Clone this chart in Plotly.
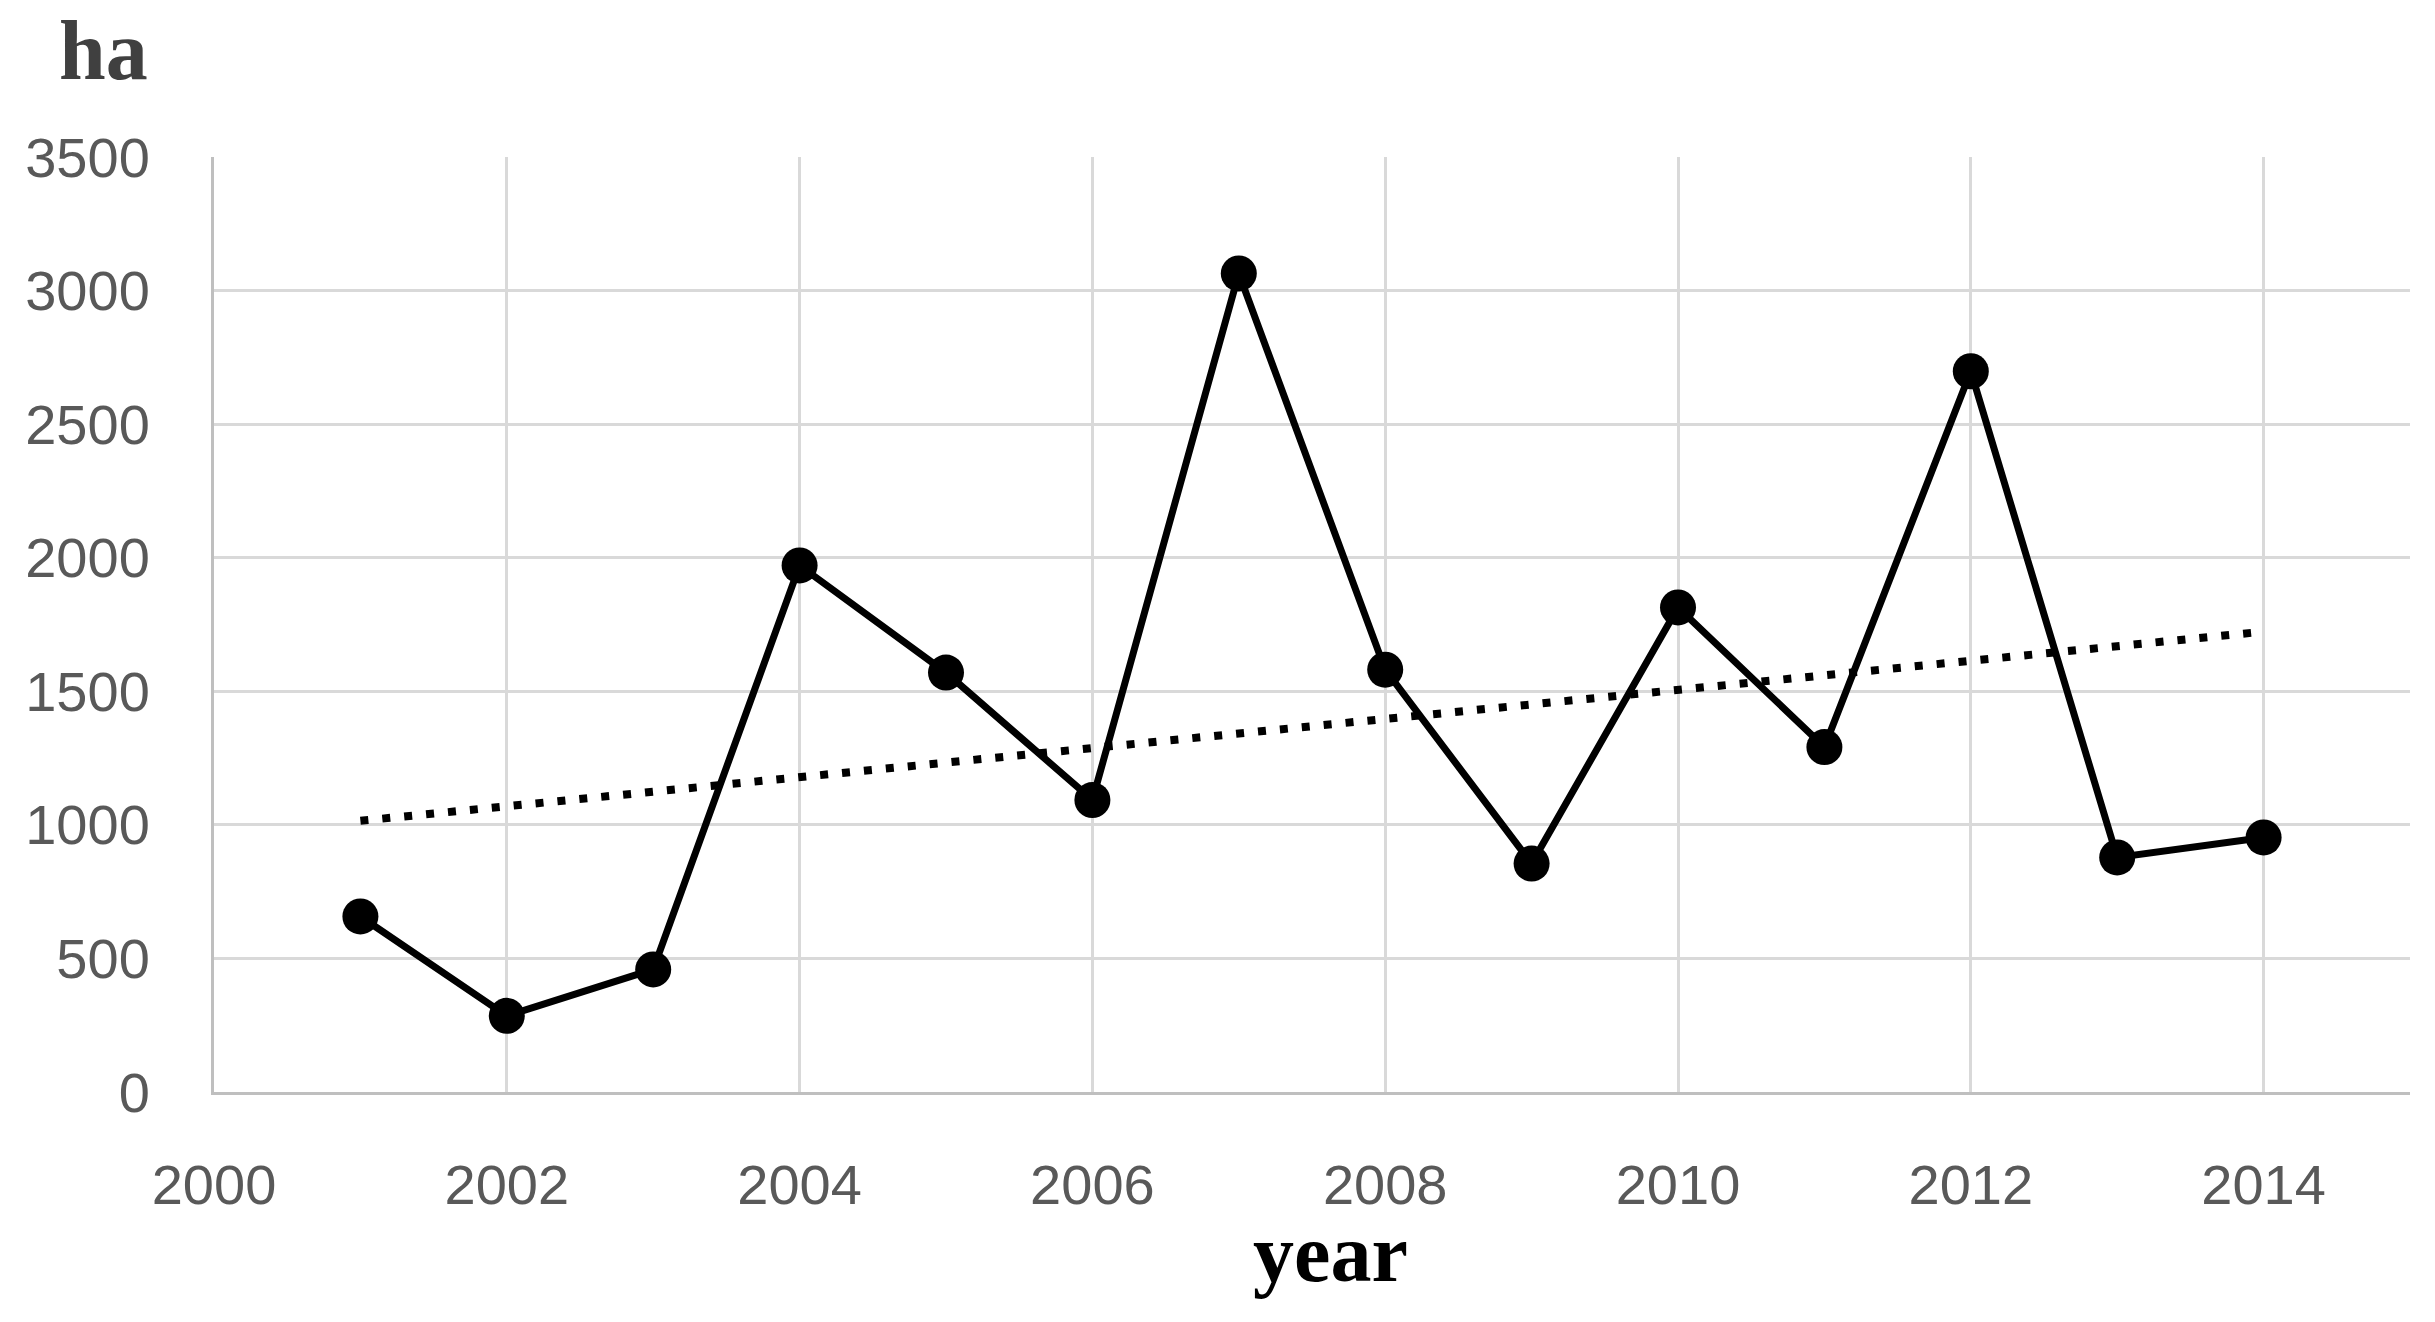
import numpy as np
import plotly.graph_objects as go

years = [2001, 2002, 2003, 2004, 2005, 2006, 2007, 2008, 2009, 2010, 2011, 2012, 2013, 2014]
area_ha = [657, 285, 459, 1971, 1570, 1093, 3064, 1581, 855, 1814, 1291, 2698, 878, 953]
x_ticks = [2000, 2002, 2004, 2006, 2008, 2010, 2012, 2014]
y_ticks = [0, 500, 1000, 1500, 2000, 2500, 3000, 3500]

# linear trend line fitted to the data
coef = np.polyfit(years, area_ha, 1)
trend = np.polyval(coef, years)

fig = go.Figure()
fig.add_trace(go.Scatter(
    x=years, y=trend, mode="lines",
    line=dict(color="black", width=8, dash="8px,14px"),
    showlegend=False, hoverinfo="skip"))
fig.add_trace(go.Scatter(
    x=years, y=area_ha, mode="lines+markers",
    line=dict(color="black", width=7),
    marker=dict(color="black", size=36),
    showlegend=False))

tick_font = dict(family="Liberation Sans, Arial, sans-serif", size=56, color="#595959")
fig.update_layout(
    width=2435, height=1322,
    margin=dict(l=214, r=25, t=157, b=230),
    paper_bgcolor="white", plot_bgcolor="white",
    xaxis=dict(range=[2000, 2015], tickvals=x_ticks, ticktext=[str(v) for v in x_ticks],
               showgrid=True, gridcolor="#d9d9d9", gridwidth=3,
               showline=True, linecolor="#bfbfbf", linewidth=3,
               zeroline=False, tickfont=tick_font, ticks="", ticklabelstandoff=42),
    yaxis=dict(range=[0, 3500], tickvals=y_ticks, ticktext=[str(v) for v in y_ticks],
               showgrid=True, gridcolor="#d9d9d9", gridwidth=3,
               showline=True, linecolor="#bfbfbf", linewidth=3,
               zeroline=False, tickfont=tick_font, ticks="", ticklabelstandoff=50),
    annotations=[
        dict(text="<b>ha</b>", xref="paper", yref="paper", x=(103 - 214) / 2196, y=1.0,
             yshift=107, xanchor="center", yanchor="middle", showarrow=False,
             font=dict(family="Liberation Serif, DejaVu Serif, serif", size=84, color="#404040")),
        dict(text="<b>year</b>", xref="paper", yref="paper", x=(1330 - 214) / 2196, y=0,
             yshift=-161, xanchor="center", yanchor="middle", showarrow=False,
             font=dict(family="Liberation Serif, DejaVu Serif, serif", size=82, color="black")),
    ],
)

fig.write_html("out.html",
               config={"displayModeBar": False},
               post_script="document.body.style.margin='0';document.body.style.overflow='hidden';")
